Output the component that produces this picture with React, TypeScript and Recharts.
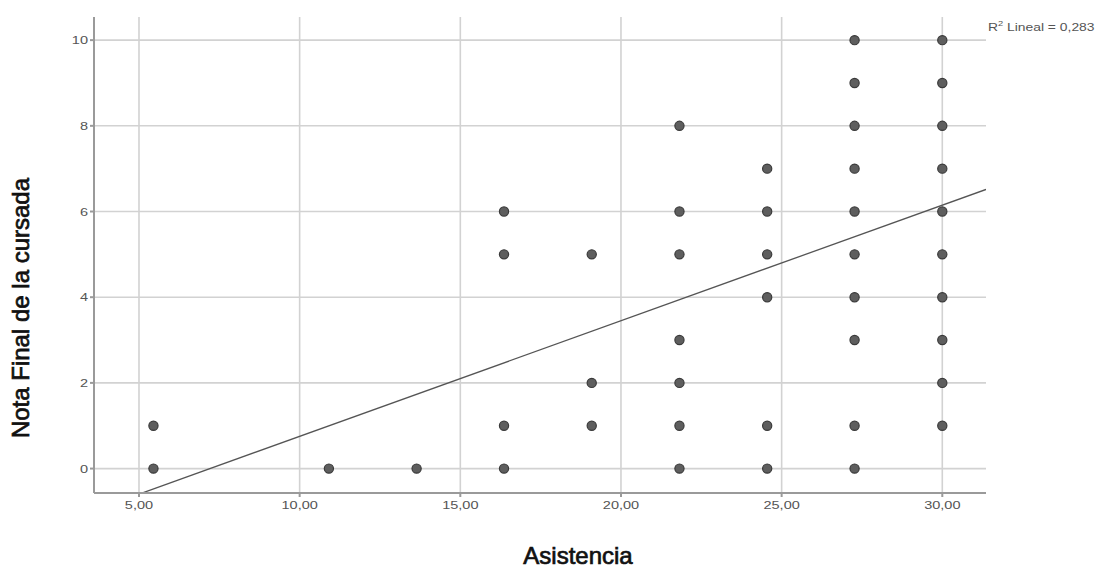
import React from 'react';
import {
    ScatterChart, Scatter, XAxis, YAxis, CartesianGrid, ReferenceLine
} from 'recharts';

// Attendance (sessions scaled to 30) vs. final course grade
const attendance = [5.45, 10.91, 13.64, 16.36, 19.09, 21.82, 24.55, 27.27, 30.0];
const gradesByAttendance = [
    [0, 1],
    [0],
    [0],
    [0, 1, 5, 6],
    [1, 2, 5],
    [0, 1, 2, 3, 5, 6, 8],
    [0, 1, 4, 5, 6, 7],
    [0, 1, 3, 4, 5, 6, 7, 8, 9, 10],
    [1, 2, 3, 4, 5, 6, 7, 8, 9, 10],
];

const xTicks = [5, 10, 15, 20, 25, 30];
const yTicks = [0, 2, 4, 6, 8, 10];

// Linear fit line
const fitIntercept = -1.946;
const fitSlope = 0.2698;
const rSquared = '0,283';

const X_DOMAIN: [number, number] = [3.6, 31.36];
const Y_DOMAIN: [number, number] = [-0.57, 10.54];

const points = attendance.flatMap((x, i) => gradesByAttendance[i].map((y) => ({ x, y })));

const fitAt = (x: number) => fitIntercept + fitSlope * x;

const colors = {
    grid: '#d2d2d2',
    axis: '#9a9a9a',
    tick: '#555555',
    dotFill: '#5e5e5e',
    dotStroke: '#3a3a3a',
    fit: '#555555',
};

const FONT = 'Liberation Sans, Arial, sans-serif';
// SPSS-style labels are a bit wide
const WIDE = 1.32;

const Dot = (props: any) => {
    const { cx, cy } = props;
    if (cx == null || cy == null) return null;
    return <circle cx={cx} cy={cy} r={4.6} fill={colors.dotFill} stroke={colors.dotStroke} strokeWidth={1.2} />;
};

const XTick = (props: any) => {
    const { x, y, payload } = props;
    return (
        <g transform={`translate(${x},${y})`}>
            <text
                transform={`scale(${WIDE},1)`}
                textAnchor="middle"
                dy={10}
                fontSize={11}
                fill={colors.tick}
                fontFamily={FONT}
            >
                {Number(payload.value).toFixed(2).replace('.', ',')}
            </text>
        </g>
    );
};

const YTick = (props: any) => {
    const { x, y, payload } = props;
    return (
        <g transform={`translate(${x},${y})`}>
            <text
                transform={`scale(${WIDE},1)`}
                textAnchor="end"
                dy={4}
                fontSize={11}
                fill={colors.tick}
                fontFamily={FONT}
            >
                {payload.value}
            </text>
        </g>
    );
};

const App: React.FC = () => {
    const titleStyle: React.CSSProperties = {
        position: 'absolute', fontSize: 24, color: '#111', whiteSpace: 'nowrap',
        fontFamily: FONT, WebkitTextStroke: '0.7px #111',
    };

    return (
        <div style={{ position: 'absolute', left: 0, top: 0, width: 1101, height: 572, background: '#fff' }}>
            <ScatterChart
                width={1101}
                height={572}
                margin={{ top: 17, right: 115, bottom: 49, left: 64 }}
            >
                <CartesianGrid stroke={colors.grid} strokeWidth={1.6} verticalValues={xTicks} horizontalValues={yTicks} />
                <XAxis
                    type="number"
                    dataKey="x"
                    domain={X_DOMAIN}
                    ticks={xTicks}
                    allowDataOverflow
                    height={30}
                    stroke={colors.axis}
                    strokeWidth={2}
                    tickSize={4}
                    tick={<XTick />}
                />
                <YAxis
                    type="number"
                    dataKey="y"
                    domain={Y_DOMAIN}
                    ticks={yTicks}
                    allowDataOverflow
                    width={30}
                    stroke={colors.axis}
                    strokeWidth={2}
                    tickSize={4}
                    tick={<YTick />}
                />
                <ReferenceLine
                    segment={[
                        { x: X_DOMAIN[0], y: fitAt(X_DOMAIN[0]) },
                        { x: X_DOMAIN[1], y: fitAt(X_DOMAIN[1]) },
                    ]}
                    stroke={colors.fit}
                    strokeWidth={1.3}
                    ifOverflow="hidden"
                />
                <Scatter data={points} shape={<Dot />} isAnimationActive={false} />
            </ScatterChart>

            <div
                style={{
                    position: 'absolute', left: 988, top: 20, fontSize: 10.5,
                    color: '#555', fontFamily: FONT, whiteSpace: 'nowrap',
                    transform: `scale(${WIDE},1)`, transformOrigin: 'left top',
                }}
            >
                R<sup style={{ fontSize: 7 }}>2</sup> Lineal = {rSquared}
            </div>

            <div style={{ ...titleStyle, left: 21, top: 308, transform: 'translate(-50%, -50%) rotate(-90deg)' }}>
                Nota Final de la cursada
            </div>

            <div style={{ ...titleStyle, left: 578, top: 556, transform: 'translate(-50%, -50%)' }}>
                Asistencia
            </div>
        </div>
    );
};

export default App;
